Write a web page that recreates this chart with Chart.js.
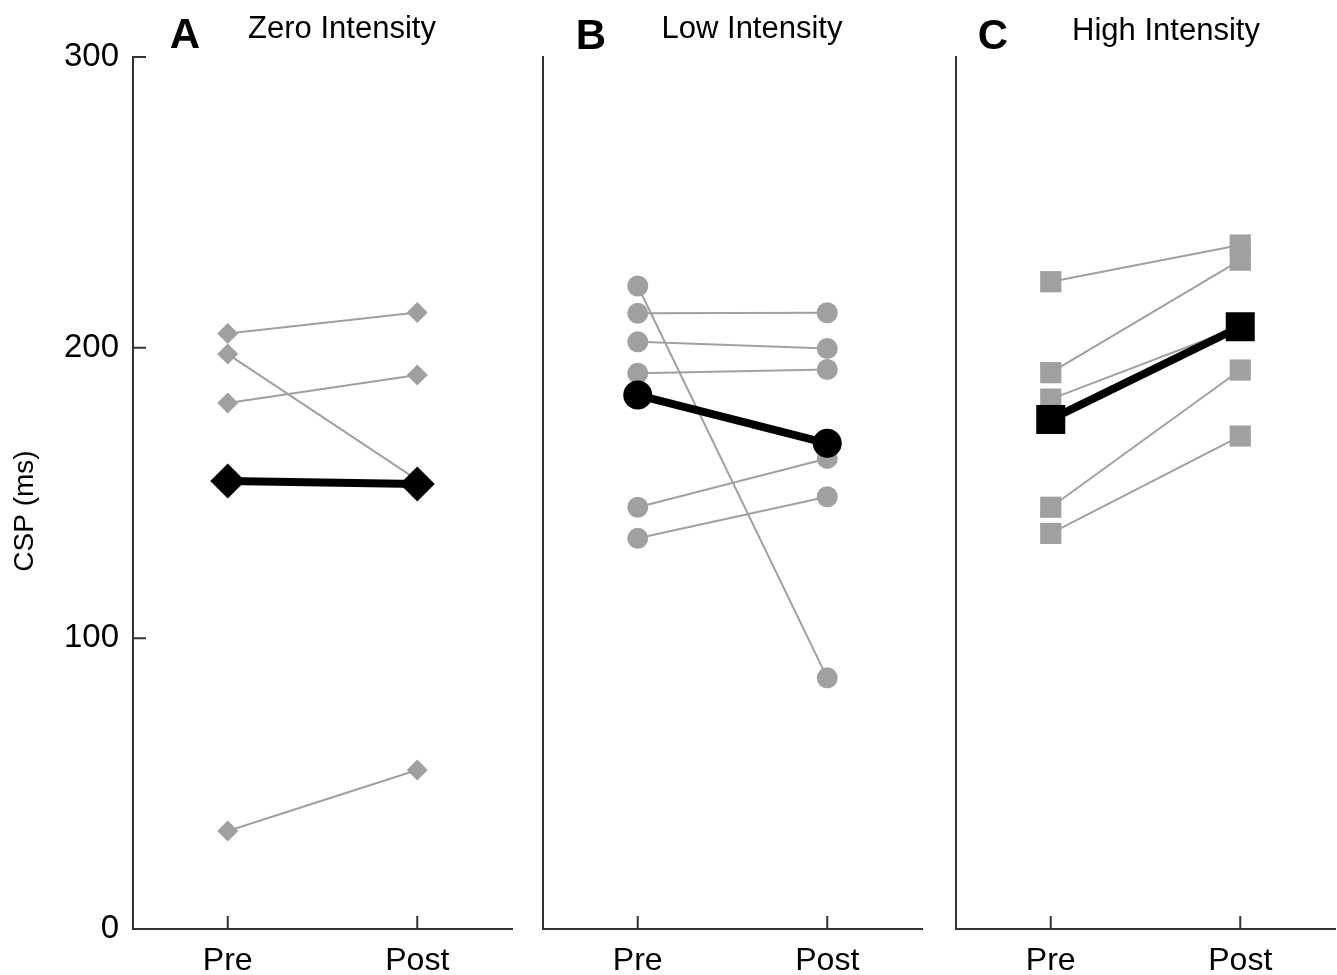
<!DOCTYPE html>
<html>
<head>
<meta charset="utf-8">
<script src="https://cdn.jsdelivr.net/npm/chart.js@4.4.0/dist/chart.umd.min.js"></script>
<style>
body { margin: 0; background: #fff; }
#wrap { position: relative; width: 1337px; height: 975px; }
canvas { position: absolute; top: 0; }
</style>
</head>
<body>
<div id="wrap">
  <canvas id="zeroChart" style="left:0px" width="530" height="975"></canvas>
  <canvas id="lowChart" style="left:530px" width="410" height="975"></canvas>
  <canvas id="highChart" style="left:940px" width="397" height="975"></canvas>
</div>
<script>
const categories = ['Pre', 'Post'];

// Zero intensity (diamonds)
const zeroPre = [204.9, 197.8, 181.0, 33.7];
const zeroPost = [212.1, 154.5, 190.6, 54.7];
const zeroMean = [154.1, 153.1];

// Low intensity (circles)
const lowPre = [221.2, 211.8, 202.0, 191.2, 145.1, 134.4];
const lowPost = [86.4, 212.0, 199.7, 192.5, 161.9, 148.7];
const lowMean = [183.7, 167.1];

// High intensity (squares)
const highPre = [222.7, 191.4, 182.3, 145.1, 136.1];
const highPost = [235.3, 230.1, 207.2, 192.3, 169.6];
const highMean = [175.3, 207.2];

const FONT = "'Liberation Sans', Arial, sans-serif";
const GREY = '#a0a0a0';
const AXIS = '#333333';
const AREA_BOTTOM = 929;
const AREA_TOP = 57;

// ticks drawn inward + panel letters and titles
const panelDecor = {
    id: 'panelDecor',
    afterDraw(chart, args, o) {
        const { ctx, chartArea, scales } = chart;
        ctx.save();
        ctx.strokeStyle = AXIS;
        ctx.lineWidth = 2;
        ctx.beginPath();
        scales.x.ticks.forEach((t, i) => {
            const px = scales.x.getPixelForTick(i);
            ctx.moveTo(px, chartArea.bottom);
            ctx.lineTo(px, chartArea.bottom - 13);
        });
        if (o.yTicks) {
            scales.y.ticks.forEach((t, i) => {
                const py = scales.y.getPixelForTick(i);
                ctx.moveTo(chartArea.left, py);
                ctx.lineTo(chartArea.left + 13, py);
            });
        }
        ctx.stroke();

        ctx.fillStyle = '#000';
        ctx.textAlign = 'center';
        ctx.textBaseline = 'middle';
        ctx.font = 'bold 42px ' + FONT;
        ctx.fillText(o.letter, o.letterX, o.letterY);
        ctx.font = '31px ' + FONT;
        ctx.fillText(o.title, o.titleX, o.titleY);

        if (o.yTitle) {
            ctx.translate(25, 511);
            ctx.rotate(-Math.PI / 2);
            ctx.font = '28px ' + FONT;
            ctx.fillText(o.yTitle, 0, 0);
        }
        ctx.restore();
    }
};

function makePanel(id, pre, post, mean, cfg) {
    const datasets = [{
        data: mean,
        borderColor: '#000',
        backgroundColor: '#000',
        borderWidth: 8,
        pointStyle: cfg.style,
        pointRadius: cfg.bigR,
        pointBorderWidth: 0,
        order: 0
    }];
    pre.forEach((v, i) => {
        datasets.push({
            data: [v, post[i]],
            borderColor: GREY,
            backgroundColor: GREY,
            borderWidth: 2,
            pointStyle: cfg.style,
            pointRadius: cfg.smallR,
            pointBorderWidth: 0,
            order: 1
        });
    });

    new Chart(document.getElementById(id).getContext('2d'), {
        type: 'line',
        data: { labels: categories, datasets: datasets },
        plugins: [panelDecor],
        options: {
            responsive: false,
            animation: false,
            clip: false,
            layout: {
                autoPadding: false,
                padding: { top: AREA_TOP, right: cfg.padRight, left: 0, bottom: 0 }
            },
            plugins: {
                legend: { display: false },
                tooltip: { enabled: false },
                panelDecor: cfg.decor
            },
            scales: {
                x: {
                    type: 'category',
                    offset: true,
                    grid: { display: false },
                    border: { display: true, color: AXIS, width: 2 },
                    ticks: { color: '#000', font: { family: FONT, size: 32 }, padding: 5, maxRotation: 0 },
                    afterFit(scale) { scale.height = 975 - AREA_BOTTOM; }
                },
                y: {
                    min: 0,
                    max: 300,
                    grid: { display: false },
                    border: { display: true, color: AXIS, width: 2 },
                    ticks: {
                        display: cfg.showY,
                        stepSize: 100,
                        color: '#000',
                        font: { family: FONT, size: 33 },
                        padding: 6
                    },
                    afterFit(scale) { scale.width = cfg.yWidth; }
                }
            }
        }
    });
}

makePanel('zeroChart', zeroPre, zeroPost, zeroMean, {
    style: 'rectRot', smallR: 10.5, bigR: 17.5, padRight: 18, yWidth: 133, showY: true,
    decor: { yTicks: true, letter: 'A', letterX: 185, letterY: 36, title: 'Zero Intensity', titleX: 342, titleY: 29, yTitle: 'CSP (ms)' }
});

makePanel('lowChart', lowPre, lowPost, lowMean, {
    style: 'circle', smallR: 10.5, bigR: 14.5, padRight: 18, yWidth: 13, showY: false,
    decor: { yTicks: false, letter: 'B', letterX: 61, letterY: 37, title: 'Low Intensity', titleX: 222, titleY: 29 }
});

makePanel('highChart', highPre, highPost, highMean, {
    style: 'rect', smallR: 15, bigR: 20.5, padRight: 2, yWidth: 16, showY: false,
    decor: { yTicks: false, letter: 'C', letterX: 53, letterY: 37, title: 'High Intensity', titleX: 226, titleY: 31 }
});
</script>
</body>
</html>
